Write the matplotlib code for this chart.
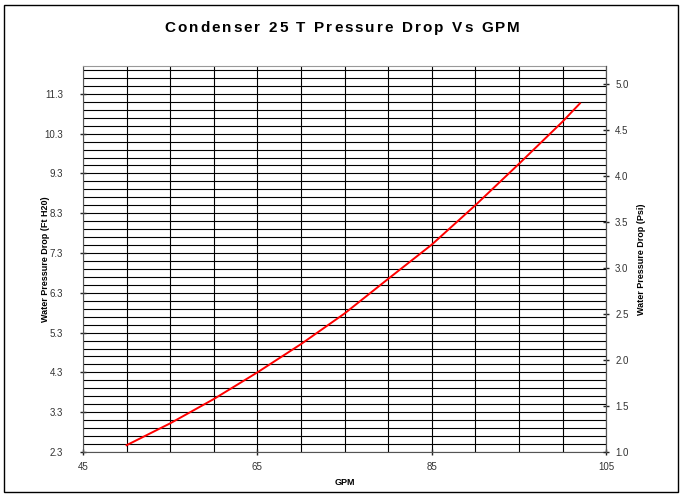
import numpy as np
import matplotlib
matplotlib.use("Agg")
import matplotlib.pyplot as plt
from matplotlib.patches import Rectangle

plt.rcParams['font.family'] = ['Liberation Sans', 'DejaVu Sans']

# data
gpm = [50, 55, 60, 65, 70, 75, 80, 85, 90, 95, 100, 102]
drop_ft = [2.47, 3.02, 3.63, 4.30, 5.01, 5.78, 6.65, 7.51, 8.50, 9.54, 10.60, 11.06]

ft_ticks = [2.3, 3.3, 4.3, 5.3, 6.3, 7.3, 8.3, 9.3, 10.3, 11.3]
psi_ticks = [1.0, 1.5, 2.0, 2.5, 3.0, 3.5, 4.0, 4.5, 5.0]
gpm_ticks = [45, 65, 85, 105]

title = "Condenser 25 T Pressure Drop Vs GPM"

fig = plt.figure(figsize=(6.82, 4.95), dpi=100)
fig.patches.append(Rectangle((0.006, 0.006), 0.988, 0.984, transform=fig.transFigure,
                             fill=False, edgecolor='black', linewidth=1.0))

ax = fig.add_axes([0.1217, 0.0869, 0.767, 0.7798])
ax.plot(gpm, drop_ft, color='#ff0000', linewidth=1.4, zorder=5)

ax.set_xlim(45, 105)
ax.set_ylim(2.3, 12.0)
ax.set_xticks(gpm_ticks)
ax.set_xticks(np.arange(45, 106, 5), minor=True)
ax.set_yticks(ft_ticks)
ax.set_yticks(np.arange(2.3, 12.01, 0.2), minor=True)
ax.set_yticklabels([f"{v:.1f}" for v in ft_ticks])
ax.grid(True, which='both', color='black', linewidth=0.8)
ax.set_axisbelow(True)
ax.tick_params(axis='both', which='major', direction='inout', length=5, width=1,
               labelsize=7, colors='#222222', labelcolor='#333333')
ax.tick_params(axis='both', which='minor', length=0)
ax.tick_params(axis='x', pad=5)
ax.tick_params(axis='y', pad=12)

for s in ax.spines.values():
    s.set_color('#555555')
ax.spines['top'].set_color('#999999')

ax.set_xlabel("GPM", fontsize=6.5, fontweight='bold')
ax.xaxis.set_label_coords(0.5, -0.067)
ax.set_ylabel("Water Pressure Drop (Ft H20)", fontsize=6.5, fontweight='bold')
ax.yaxis.set_label_coords(-0.064, 0.5)

ax2 = ax.twinx()
ax2.set_ylim(1.0, 5.2)
ax2.set_yticks(psi_ticks)
ax2.set_yticklabels([f"{v:.1f}" for v in psi_ticks])
ax2.tick_params(axis='y', direction='inout', length=5, width=1, labelsize=7,
                colors='#222222', labelcolor='#333333', pad=4)
for s in ax2.spines.values():
    s.set_visible(False)
ax2.spines['right'].set_visible(True)
ax2.spines['right'].set_color('#555555')
ax2.set_ylabel("Water Pressure Drop (Psi)", fontsize=6.5, fontweight='bold')
ax2.yaxis.set_label_coords(1.059, 0.5)

# spaced-out title, one letter at a time
renderer = fig.canvas.get_renderer()
spacing = 2.0
widths = []
for ch in title:
    if ch == " ":
        widths.append(4.5)
        continue
    t = fig.text(0, 0, ch, fontsize=11, fontweight='bold')
    widths.append(t.get_window_extent(renderer).width)
    t.remove()
total = sum(widths) + spacing * (len(title) - 1)
x = 342 - total / 2
for ch, w in zip(title, widths):
    if ch != " ":
        fig.text(x / 682, 1 - 28 / 495, ch, fontsize=11, fontweight='bold',
                 va='center', ha='left')
    x += w + spacing

plt.savefig("out.png", dpi=100)
